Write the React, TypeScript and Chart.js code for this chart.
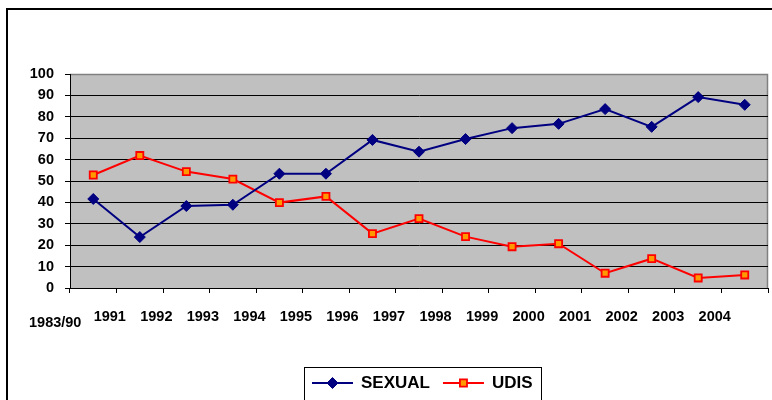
import React, { useEffect, useRef } from "react";
import { Chart, registerables } from "chart.js";
import { drawPoint } from "chart.js/helpers";

Chart.register(...registerables);

const categories = ["1983/90", "1991", "1992", "1993", "1994", "1995", "1996", "1997", "1998", "1999", "2000", "2001", "2002", "2003", "2004"];
const sexualValues = [41.6, 23.8, 38.3, 38.9, 53.4, 53.4, 69.2, 63.7, 69.6, 74.7, 76.7, 83.6, 75.3, 89.2, 85.6];
const udisValues = [52.8, 61.9, 54.4, 50.9, 39.9, 42.8, 25.4, 32.4, 24.0, 19.3, 20.7, 6.9, 13.7, 4.7, 6.1];
const yTicks = [0, 10, 20, 30, 40, 50, 60, 70, 80, 90, 100];

const FONT = "'Liberation Sans', Arial, sans-serif";

const frame = {
  id: "frame",
  beforeDraw(chart: any) {
    const { ctx, chartArea } = chart;
    ctx.save();
    ctx.fillStyle = "#C0C0C0";
    ctx.fillRect(chartArea.left, chartArea.top, chartArea.right - chartArea.left, chartArea.bottom - chartArea.top);
    ctx.strokeStyle = "#808080";
    ctx.lineWidth = 1.5;
    ctx.beginPath();
    ctx.moveTo(chartArea.left, chartArea.top + 0.5);
    ctx.lineTo(chartArea.right - 0.5, chartArea.top + 0.5);
    ctx.lineTo(chartArea.right - 0.5, chartArea.bottom);
    ctx.stroke();
    ctx.restore();
  },
  afterDraw(chart: any) {
    const { ctx } = chart;
    ctx.save();
    const boxL = 296.5, boxT = 357.5, boxR = 533.5, boxB = 430;
    ctx.strokeStyle = "#000";
    ctx.lineWidth = 1;
    ctx.strokeRect(boxL, boxT, boxR - boxL, boxB - boxT);
    ctx.font = `bold 17px ${FONT}`;
    ctx.textBaseline = "middle";
    ctx.textAlign = "left";
    let x = 304;
    const y = 373;
    chart.data.datasets.forEach((ds: any) => {
      ctx.strokeStyle = ds.borderColor;
      ctx.lineWidth = ds.borderWidth;
      ctx.beginPath();
      ctx.moveTo(x, y);
      ctx.lineTo(x + 41, y);
      ctx.stroke();
      ctx.fillStyle = ds.pointBackgroundColor;
      ctx.strokeStyle = ds.pointBorderColor;
      ctx.lineWidth = ds.pointBorderWidth;
      drawPoint(ctx, { pointStyle: ds.pointStyle, rotation: 0, radius: ds.pointRadius, borderWidth: ds.pointBorderWidth }, x + 20.5, y);
      ctx.fillStyle = "#000";
      ctx.fillText(ds.label, x + 49, y + 0.5);
      const w = ctx.measureText(ds.label).width;
      x = x + 49 + w + 13;
    });
    ctx.restore();
  },
};

export default function App() {
  const ref = useRef<HTMLCanvasElement>(null);
  useEffect(() => {
    const canvas = ref.current!;
    const chart = new Chart(canvas, {
      type: "line",
      data: {
        labels: categories,
        datasets: [
          {
            label: "SEXUAL",
            data: sexualValues,
            borderColor: "#000080",
            backgroundColor: "#000080",
            borderWidth: 2,
            pointStyle: "rectRot",
            pointRadius: 5.5,
            pointBackgroundColor: "#000080",
            pointBorderColor: "#000080",
            pointBorderWidth: 1,
            tension: 0,
          },
          {
            label: "UDIS",
            data: udisValues,
            borderColor: "#FF0000",
            backgroundColor: "#FF9900",
            borderWidth: 2,
            pointStyle: "rect",
            pointRadius: 5,
            pointBackgroundColor: "#FF9900",
            pointBorderColor: "#FF0000",
            pointBorderWidth: 1.8,
            tension: 0,
          },
        ],
      },
      options: {
        responsive: false,
        animation: false,
        events: [],
        layout: { padding: { left: 0, top: 64, right: 30, bottom: 82 } },
        plugins: { legend: { display: false }, title: { display: false }, tooltip: { enabled: false } },
        scales: {
          x: {
            type: "category",
            offset: true,
            grid: { offset: true, drawOnChartArea: false, drawTicks: true, tickLength: 5, tickColor: "#000", lineWidth: 1 },
            border: { display: true, color: "#000", width: 1 },
            ticks: {
              autoSkip: false,
              maxRotation: 0,
              minRotation: 0,
              padding: 15,
              labelOffset: -30,
              color: "#000",
              font: (ctx: any) => ({ family: FONT, size: 14.5, weight: "bold", lineHeight: ctx.index === 0 ? "29px" : "17px" }),
              callback: (_v: any, i: number) => (i === 0 ? categories[i] + "    " : categories[i]),
            },
            afterFit: (scale: any) => {
              scale.height = 50;
            },
          },
          y: {
            min: 0,
            max: 100,
            afterBuildTicks: (scale: any) => {
              scale.ticks = yTicks.map((v) => ({ value: v }));
            },
            grid: {
              color: (ctx: any) => (ctx.tick && ctx.tick.value === 100 ? "rgba(0,0,0,0)" : "#000"),
              tickColor: "#000",
              tickLength: 5,
              lineWidth: 1,
            },
            border: { display: true, color: "#000", width: 1 },
            ticks: {
              padding: 11,
              color: "#000",
              font: { family: FONT, size: 14.5, weight: "bold" },
            },
            afterFit: (scale: any) => {
              scale.width = 62;
            },
          },
        },
      },
      plugins: [frame],
    });
    return () => chart.destroy();
  }, []);
  return (
    <div style={{ position: "fixed", left: 0, top: 0, width: 772, height: 400, overflow: "hidden", background: "#fff" }}>
      <div style={{ position: "absolute", left: 6, top: 8, borderLeft: "2px solid #000", borderTop: "2px solid #000" }}>
        <canvas ref={ref} width={790} height={410} style={{ display: "block" }} />
      </div>
    </div>
  );
}
